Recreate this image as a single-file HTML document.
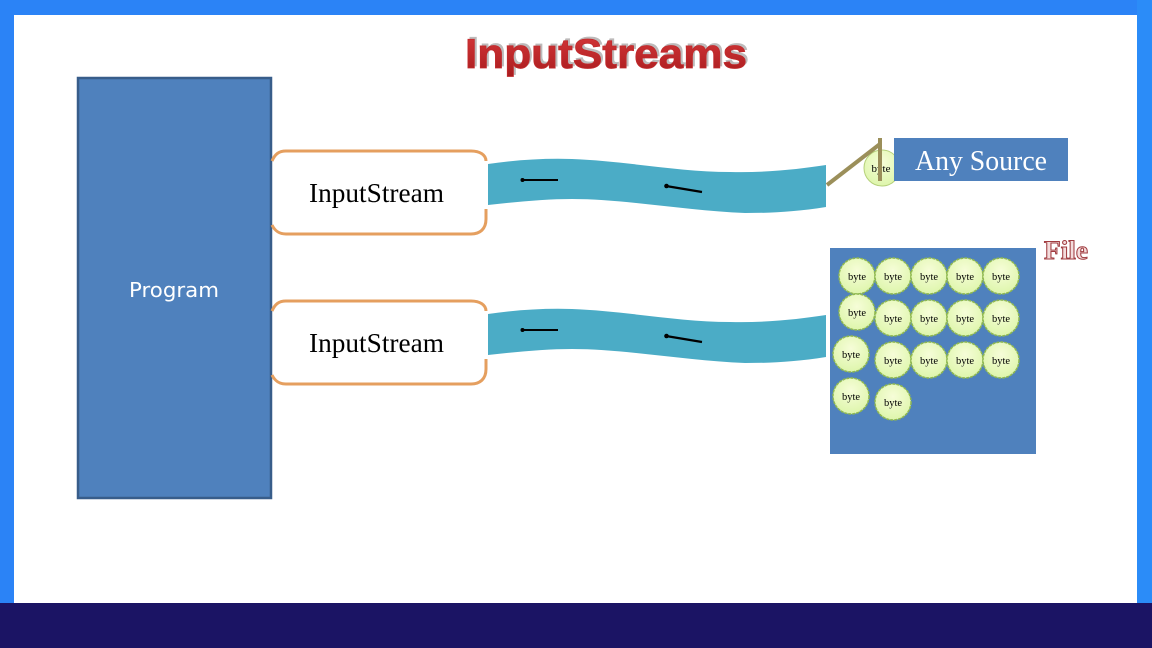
<!DOCTYPE html>
<html lang="en">
<head>
<meta charset="utf-8">
<title>InputStreams</title>
<style>
html,body{margin:0;padding:0;background:#fff}
svg{display:block}
</style>
</head>
<body>
<svg xmlns="http://www.w3.org/2000/svg" width="1152" height="648" viewBox="0 0 1152 648">
<defs>
<linearGradient id="tg" x1="0" y1="0" x2="0" y2="1">
<stop offset="0" stop-color="#d8383a"/>
<stop offset="1" stop-color="#a81c1e"/>
</linearGradient>
<radialGradient id="bg" cx="50%" cy="35%" r="70%">
<stop offset="0" stop-color="#f6fdd8"/>
<stop offset="1" stop-color="#dcf5a8"/>
</radialGradient>
<g id="stream">
<path d="M488 164 C515 160 545 158 572 159 C625 161 680 172 730 172 C765 173 800 169 826 165 L826 207 C795 212 770 213 745 213 C690 211 625 199 572 199 C545 199 515 202 488 205 Z" fill="#4bacc6"/>
<path d="M522 180 H558" stroke="#000" stroke-width="2"/>
<circle cx="522.500" cy="180" r="2"/>
<path d="M666 186 L702 192" stroke="#000" stroke-width="2.200"/>
<circle cx="666.500" cy="186" r="2.300"/>
</g>
<g id="box" fill="none" stroke="#e59f5f" stroke-width="3">
<path d="M272 161 C275 154 279 151 286 151 H471 C480 151 486 155 486 161"/>
<path d="M486 209 V219 C486 229 480 234 471 234 H286 C279 234 275 231 272 225"/>
</g>
</defs>

<rect width="1152" height="648" fill="#fff"/>
<rect x="0" y="0" width="1152" height="15" fill="#2b83f6"/>
<rect x="0" y="0" width="14" height="648" fill="#2b83f6"/>
<rect x="1137" y="0" width="15" height="648" fill="#2b8cf8"/>
<rect x="0" y="603" width="1152" height="45" fill="#1b1464"/>

<text x="465" y="68" font-family="'Liberation Sans',sans-serif" font-size="42" font-weight="700" fill="#bdbaba" stroke="#bdbaba" stroke-width="0.800" transform="translate(2,-2)" textLength="282" lengthAdjust="spacingAndGlyphs">InputStreams</text>
<text x="465" y="68" font-family="'Liberation Sans',sans-serif" font-size="42" font-weight="700" fill="url(#tg)" stroke="#c02a2c" stroke-width="0.800" textLength="282" lengthAdjust="spacingAndGlyphs">InputStreams</text>

<rect x="78" y="78" width="193" height="420" fill="#4f81bd" stroke="#385d8a" stroke-width="2.500"/>
<text x="174" y="297" text-anchor="middle" font-family="'DejaVu Sans','Liberation Sans',sans-serif" font-size="20" fill="#fff" textLength="90" lengthAdjust="spacingAndGlyphs">Program</text>

<use href="#box"/>
<use href="#box" y="150"/>
<text x="309" y="202" font-family="'Liberation Serif',serif" font-size="27" fill="#000" textLength="135" lengthAdjust="spacingAndGlyphs">InputStream</text>
<text x="309" y="352" font-family="'Liberation Serif',serif" font-size="27" fill="#000" textLength="135" lengthAdjust="spacingAndGlyphs">InputStream</text>

<use href="#stream"/>
<use href="#stream" y="150"/>

<circle cx="882" cy="168" r="18" fill="url(#bg)" stroke="#b5d07a" stroke-width="1"/>
<text x="881" y="172" text-anchor="middle" font-family="'Liberation Serif',serif" font-size="11" fill="#000">byte</text>
<path d="M827 185 L880 144" stroke="#9b8f5a" stroke-width="4" fill="none"/>
<path d="M880 138 V181" stroke="#9b8f5a" stroke-width="4" fill="none"/>
<rect x="894" y="138" width="174" height="43" fill="#4f81bd"/>
<text x="981" y="170" text-anchor="middle" font-family="'Liberation Serif',serif" font-size="28" fill="#fff" textLength="132" lengthAdjust="spacingAndGlyphs">Any Source</text>

<text x="1044" y="259" font-family="'Liberation Serif',serif" font-size="26" font-weight="700" fill="#f3dcdc" stroke="#a03c40" stroke-width="1" textLength="44" lengthAdjust="spacingAndGlyphs">File</text>

<rect x="830" y="248" width="206" height="206" fill="#4f81bd"/>
<g fill="url(#bg)" stroke="#8fb850" stroke-width="1.500" stroke-dasharray="3 1">
<circle cx="857" cy="276" r="18"/><circle cx="893" cy="276" r="18"/><circle cx="929" cy="276" r="18"/><circle cx="965" cy="276" r="18"/><circle cx="1001" cy="276" r="18"/>
<circle cx="857" cy="312" r="18"/><circle cx="893" cy="318" r="18"/><circle cx="929" cy="318" r="18"/><circle cx="965" cy="318" r="18"/><circle cx="1001" cy="318" r="18"/>
<circle cx="851" cy="354" r="18"/><circle cx="893" cy="360" r="18"/><circle cx="929" cy="360" r="18"/><circle cx="965" cy="360" r="18"/><circle cx="1001" cy="360" r="18"/>
<circle cx="851" cy="396" r="18"/><circle cx="893" cy="402" r="18"/>
</g>
<g text-anchor="middle" font-family="'Liberation Serif',serif" font-size="10.500" fill="#000">
<text x="857" y="280">byte</text><text x="893" y="280">byte</text><text x="929" y="280">byte</text><text x="965" y="280">byte</text><text x="1001" y="280">byte</text>
<text x="857" y="316">byte</text><text x="893" y="322">byte</text><text x="929" y="322">byte</text><text x="965" y="322">byte</text><text x="1001" y="322">byte</text>
<text x="851" y="358">byte</text><text x="893" y="364">byte</text><text x="929" y="364">byte</text><text x="965" y="364">byte</text><text x="1001" y="364">byte</text>
<text x="851" y="400">byte</text><text x="893" y="406">byte</text>
</g>
</svg>
</body>
</html>
